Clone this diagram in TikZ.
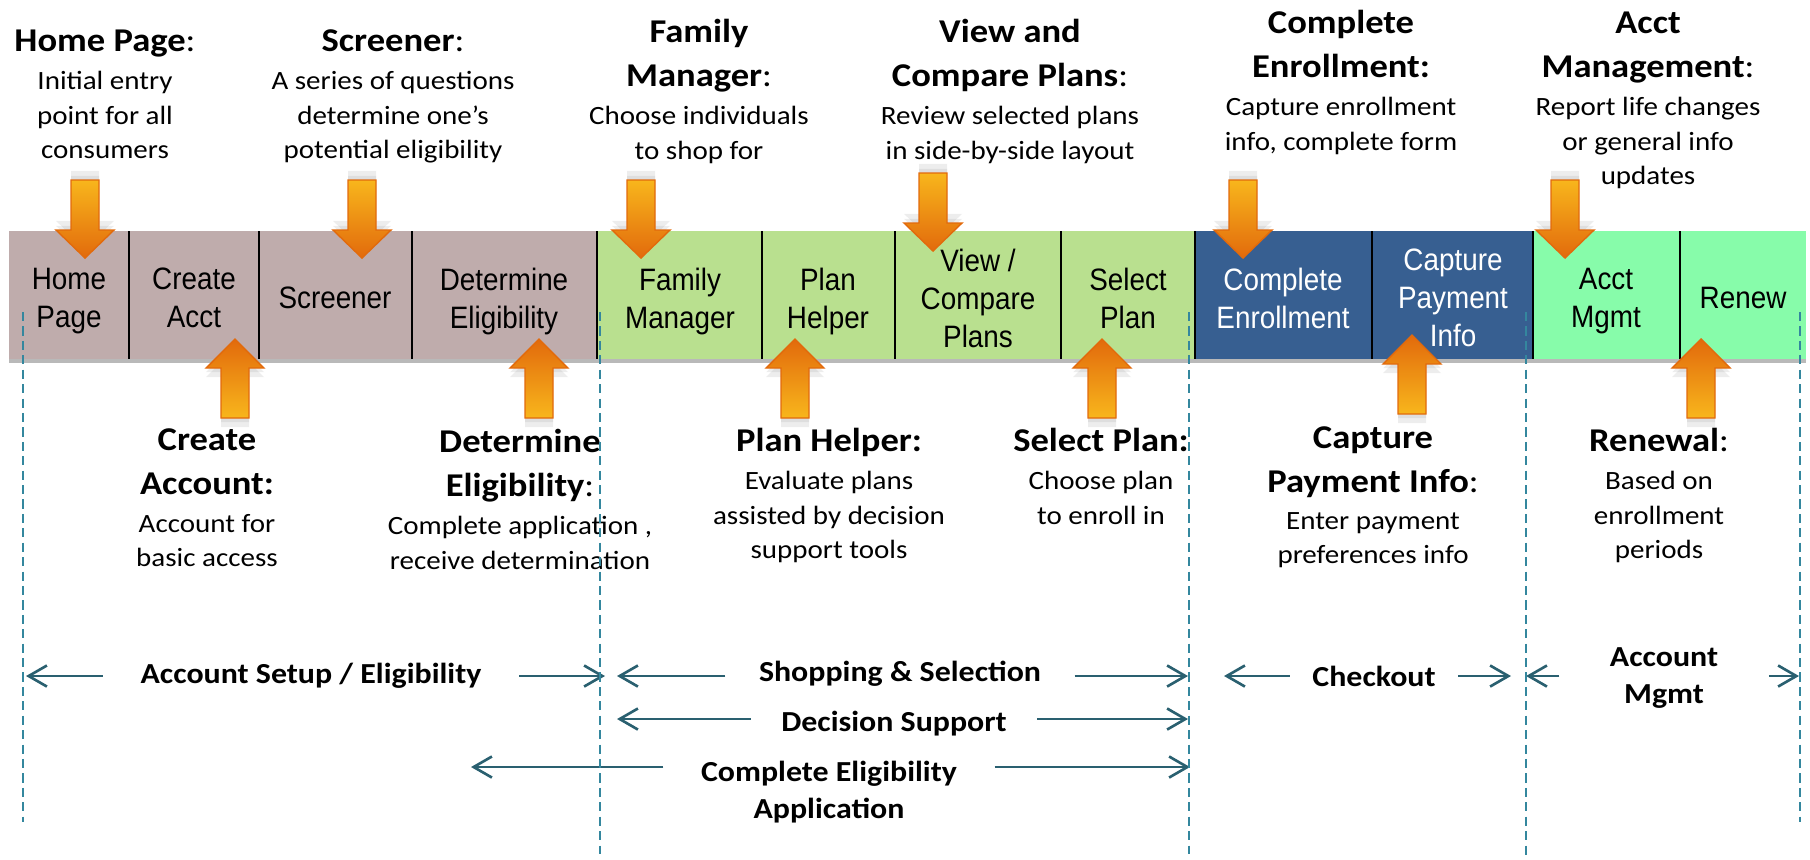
\documentclass[tikz,border=0pt]{standalone}
\usepackage{fontspec}
\setmainfont{Carlito}[FakeStretch=1.1]
\newfontfamily\narrowfont{Liberation Sans}[FakeStretch=0.9]
\usetikzlibrary{positioning,arrows.meta,shadows}

\definecolor{setupfill}{RGB}{191,172,172}
\definecolor{shopfill}{RGB}{185,224,143}
\definecolor{checkfill}{RGB}{55,95,145}
\definecolor{carefill}{RGB}{135,252,170}
\definecolor{spanline}{RGB}{42,96,112}
\definecolor{guideline}{RGB}{52,135,158}
\definecolor{arrowgold}{RGB}{248,182,28}
\definecolor{arrowdeep}{RGB}{226,106,12}

\begin{document}
\begin{tikzpicture}[x=0.01cm,y=-0.01cm,
	cell/.style={inner sep=0pt,text depth=0pt,align=center,font=\narrowfont\fontsize{8.8}{10.8}\selectfont},
	divider/.style={line width=0.7pt},
	title/.style={inner sep=0pt,align=center,font=\bfseries\fontsize{9.45}{12.5}\selectfont,execute at end node=\strut},
	note/.style={inner sep=0pt,align=center,font=\fontsize{7.5}{9.8}\selectfont},
	callout/.style={draw=arrowdeep,line width=0.4pt},
	calldown/.style={callout,top color=arrowgold,bottom color=arrowdeep,
		drop shadow={opacity=0.14,shadow xshift=0pt,shadow yshift=2.6pt},
		drop shadow={opacity=0.14,shadow xshift=0pt,shadow yshift=1.2pt}},
	callup/.style={callout,top color=arrowdeep,bottom color=arrowgold,
		drop shadow={opacity=0.14,shadow xshift=0pt,shadow yshift=-2.6pt},
		drop shadow={opacity=0.14,shadow xshift=0pt,shadow yshift=-1.2pt}},
	phase/.style={inner ysep=0pt,align=center,font=\bfseries\fontsize{8.25}{10.3}\selectfont},
	span/.style={draw=spanline,line width=0.75pt,-{Straight Barb[length=5.2pt,width=6pt]}},
	guide/.style={draw=guideline,line width=0.6pt,dash pattern=on 2.6pt off 1.5pt}]
	\useasboundingbox (0,0) rectangle (1810,859);
	
	\fill[setupfill] (9,231) rectangle (597,359);
	\fill[shopfill] (597,231) rectangle (1195,359);
	\fill[checkfill] (1195,231) rectangle (1533,359);
	\fill[carefill] (1533,231) rectangle (1806,359);
	\fill[gray!55] (9,359) rectangle (1806,363);
	
	\draw[divider] (129,231) -- (129,359);
	\draw[divider] (259,231) -- (259,359);
	\draw[divider] (412,231) -- (412,359);
	\draw[divider] (597,231) -- (597,359);
	\draw[divider] (762,231) -- (762,359);
	\draw[divider] (895,231) -- (895,359);
	\draw[divider] (1061,231) -- (1061,359);
	\draw[divider] (1195,231) -- (1195,359);
	\draw[divider] (1372,231) -- (1372,359);
	\draw[divider] (1533,231) -- (1533,359);
	\draw[divider] (1680,231) -- (1680,359);
	
	\node[cell] (home) at (69,298) {Home\\Page};
	\node[cell] (acct) at (194,298) {Create\\Acct};
	\node[cell] (screen) at (335,298) {Screener};
	\node[cell] (elig) at (504,298) {Determine\\Eligibility};
	\node[cell] (family) at (680,298) {Family\\Manager};
	\node[cell] (helper) at (828,298) {Plan\\Helper};
	\node[cell] (compare) at (978,298) {View /\\Compare\\Plans};
	\node[cell] (select) at (1128,298) {Select\\Plan};
	\node[cell,text=white] (enroll) at (1283,298) {Complete\\Enrollment};
	\node[cell,text=white] (payment) at (1453,298) {Capture\\Payment\\Info};
	\node[cell] (mgmt) at (1606,298) {Acct\\Mgmt};
	\node[cell] (renew) at (1743,298) {Renew};
	
	\node[title,anchor=south] (hometitle) at (105,65) {Home Page\textmd{:}};
	\node[note,below=1.6pt of hometitle] (homenote) {Initial entry\\point for all\\consumers};
	
	\node[title,anchor=south] (screentitle) at (393,65) {Screener\textmd{:}};
	\node[note,below=1.6pt of screentitle] (screennote) {A series of questions\\determine one’s\\potential eligibility};
	
	\node[title,anchor=south] (familytitle) at (699,100) {Family\\Manager\textmd{:}};
	\node[note,below=1.6pt of familytitle] (familynote) {Choose individuals\\to shop for};
	
	\node[title,anchor=south] (comparetitle) at (1010,100) {View and\\Compare Plans\textmd{:}};
	\node[note,below=1.6pt of comparetitle] (comparenote) {Review selected plans\\in side-by-side layout};
	
	\node[title,anchor=south] (enrolltitle) at (1341,91) {Complete\\Enrollment:};
	\node[note,below=1.6pt of enrolltitle] (enrollnote) {Capture enrollment\\info, complete form};
	
	\node[title,anchor=south] (mgmttitle) at (1648,91) {Acct\\Management\textmd{:}};
	\node[note,below=1.6pt of mgmttitle] (mgmtnote) {Report life changes\\or general info\\updates};
	
	\node[title,anchor=south] (accttitle) at (207,508) {Create\\Account:};
	\node[note,below=1.6pt of accttitle] (acctnote) {Account for\\basic access};
	
	\node[title,anchor=south] (eligtitle) at (520,510) {Determine\\Eligibility\textmd{:}};
	\node[note,below=1.6pt of eligtitle] (elignote) {Complete application ,\\receive determination};
	
	\node[title,anchor=south] (helpertitle) at (829,465) {Plan Helper:};
	\node[note,below=1.6pt of helpertitle] (helpernote) {Evaluate plans\\assisted by decision\\support tools};
	
	\node[title,anchor=south] (selecttitle) at (1101,465) {Select Plan:};
	\node[note,below=1.6pt of selecttitle] (selectnote) {Choose plan\\to enroll in};
	
	\node[title,anchor=south] (paytitle) at (1373,506) {Capture\\Payment Info\textmd{:}};
	\node[note,below=1.6pt of paytitle] (paynote) {Enter payment\\preferences info};
	
	\node[title,anchor=south] (renewtitle) at (1659,465) {Renewal\textmd{:}};
	\node[note,below=1.6pt of renewtitle] (renewnote) {Based on\\enrollment\\periods};
	
	\draw[calldown] (71,180) -- ++(28,0) -- ++(0,50) -- ++(15,0) -- ++(-29,28) -- ++(-29,-28) -- ++(15,0) -- cycle;
	\draw[calldown] (348,180) -- ++(28,0) -- ++(0,50) -- ++(15,0) -- ++(-29,28) -- ++(-29,-28) -- ++(15,0) -- cycle;
	\draw[calldown] (627,180) -- ++(28,0) -- ++(0,50) -- ++(15,0) -- ++(-29,28) -- ++(-29,-28) -- ++(15,0) -- cycle;
	\draw[calldown] (919,173) -- ++(28,0) -- ++(0,50) -- ++(15,0) -- ++(-29,28) -- ++(-29,-28) -- ++(15,0) -- cycle;
	\draw[calldown] (1229,180) -- ++(28,0) -- ++(0,50) -- ++(15,0) -- ++(-29,28) -- ++(-29,-28) -- ++(15,0) -- cycle;
	\draw[calldown] (1551,180) -- ++(28,0) -- ++(0,50) -- ++(15,0) -- ++(-29,28) -- ++(-29,-28) -- ++(15,0) -- cycle;
	
	\draw[callup] (221,418) -- ++(28,0) -- ++(0,-50) -- ++(15,0) -- ++(-29,-29) -- ++(-29,29) -- ++(15,0) -- cycle;
	\draw[callup] (525,418) -- ++(28,0) -- ++(0,-50) -- ++(15,0) -- ++(-29,-29) -- ++(-29,29) -- ++(15,0) -- cycle;
	\draw[callup] (781,418) -- ++(28,0) -- ++(0,-50) -- ++(15,0) -- ++(-29,-29) -- ++(-29,29) -- ++(15,0) -- cycle;
	\draw[callup] (1088,418) -- ++(28,0) -- ++(0,-50) -- ++(15,0) -- ++(-29,-29) -- ++(-29,29) -- ++(15,0) -- cycle;
	\draw[callup] (1398,414) -- ++(28,0) -- ++(0,-50) -- ++(15,0) -- ++(-29,-29) -- ++(-29,29) -- ++(15,0) -- cycle;
	\draw[callup] (1687,418) -- ++(28,0) -- ++(0,-50) -- ++(15,0) -- ++(-29,-29) -- ++(-29,29) -- ++(15,0) -- cycle;
	
	\node[phase,inner xsep=0.37cm] (setup) at (311,676) {Account Setup / Eligibility};
	\node[phase,inner xsep=0.33cm] (shop) at (900,674) {Shopping \& Selection};
	\node[phase,inner xsep=0.3cm] (decision) at (894,724) {Decision Support};
	\node[phase,inner xsep=0.37cm] (ceapp) at (829,792) {Complete Eligibility\\Application};
	\node[phase,inner xsep=0.22cm] (checkout) at (1374,676) {Checkout};
	\node[phase,inner xsep=0.5cm] (acctmgmt) at (1664,678) {Account\\Mgmt};
	
	\coordinate (setupL) at (26,676);
	\coordinate (setupR) at (605,676);
	\coordinate (shopL) at (617,676);
	\coordinate (shopR) at (1188,676);
	\coordinate (decL) at (617,719);
	\coordinate (decR) at (1188,719);
	\coordinate (ceL) at (471,767);
	\coordinate (ceR) at (1190,767);
	\coordinate (checkL) at (1224,676);
	\coordinate (checkR) at (1511,676);
	\coordinate (mgmtL) at (1526,676);
	\coordinate (mgmtR) at (1799,676);
	
	\draw[span] (setup.west |- setupL) -- (setupL);
	\draw[span] (setup.east |- setupR) -- (setupR);
	\draw[span] (shop.west |- shopL) -- (shopL);
	\draw[span] (shop.east |- shopR) -- (shopR);
	\draw[span] (decision.west |- decL) -- (decL);
	\draw[span] (decision.east |- decR) -- (decR);
	\draw[span] (ceapp.west |- ceL) -- (ceL);
	\draw[span] (ceapp.east |- ceR) -- (ceR);
	\draw[span] (checkout.west |- checkL) -- (checkL);
	\draw[span] (checkout.east |- checkR) -- (checkR);
	\draw[span] (acctmgmt.west |- mgmtL) -- (mgmtL);
	\draw[span] (acctmgmt.east |- mgmtR) -- (mgmtR);
	
	\draw[guide] (23,312) -- (23,822);
	\draw[guide] (600,312) -- (600,854);
	\draw[guide] (1189,312) -- (1189,854);
	\draw[guide] (1526,312) -- (1526,859);
	\draw[guide] (1800,312) -- (1800,822);
\end{tikzpicture}
\end{document}
